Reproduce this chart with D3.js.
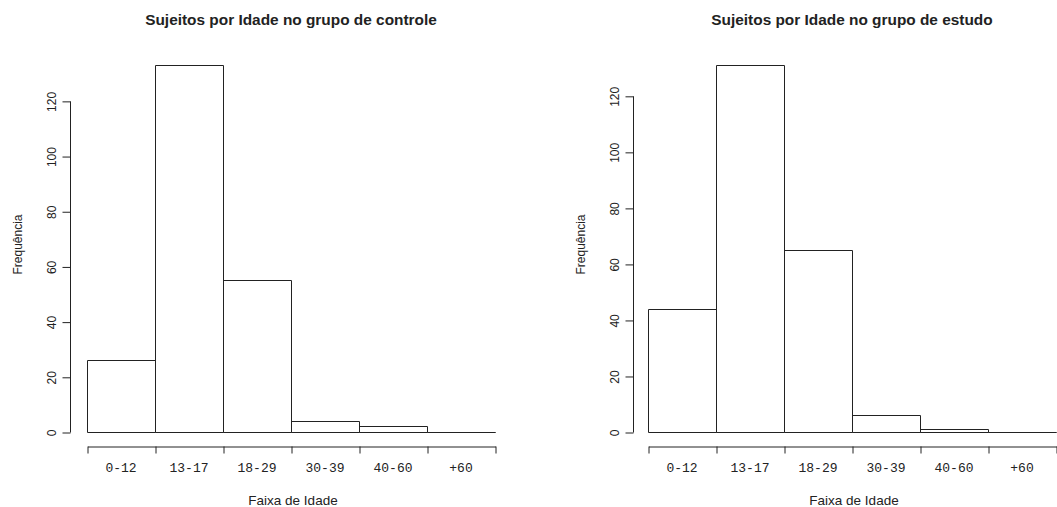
<!DOCTYPE html>
<html>
<head>
<meta charset="utf-8">
<script src="https://cdn.jsdelivr.net/npm/d3@7"></script>
<style>
  body { margin: 0; background: #fff; }
  svg text { fill: #222; }
</style>
</head>
<body>
<div id="chart"></div>
<script>
// data
var categories = ["0-12", "13-17", "18-29", "30-39", "40-60", "+60"];
var controle = [26, 133, 55, 4, 2, 0];
var estudo = [44, 131, 65, 6, 1, 0];
var yTicks = [0, 20, 40, 60, 80, 100, 120];
var titles = ["Sujeitos por Idade no grupo de controle", "Sujeitos por Idade no grupo de estudo"];

var w = 1057;
var h = 507;

var svg = d3.select("#chart")
    .append("svg")
    .attr("width", w)
    .attr("height", h);

function drawPanel(values, title, left, right, yAxisX) {
  var top = 65, bottom = 432;

  var x = d3.scaleBand()
      .domain(categories)
      .range([left, right])
      .padding(0);

  var xEdges = d3.scaleLinear()
      .domain([0, categories.length])
      .range([left, right]);

  var y = d3.scaleLinear()
      .domain([0, d3.max(values)])
      .range([bottom, top]);

  var g = svg.append("g");

  // title
  g.append("text")
      .attr("x", (left + right) / 2)
      .attr("y", 25)
      .attr("text-anchor", "middle")
      .style("font-family", "Liberation Sans, Arial, sans-serif")
      .style("font-weight", "bold")
      .style("font-size", "15.4px")
      .text(title);

  // bars (as paths so that zero-height bars still show their outline)
  g.selectAll("path.bar")
      .data(values)
      .enter()
      .append("path")
      .attr("class", "bar")
      .attr("d", function(d, i) {
        var x0 = Math.round(x(categories[i])) + 0.5;
        var x1 = Math.round(x(categories[i]) + x.bandwidth()) + 0.5;
        var y0 = Math.round(y(0)) + 0.5;
        var y1 = Math.round(y(d)) + 0.5;
        var p = d3.path();
        p.moveTo(x0, y0);
        p.lineTo(x0, y1);
        p.lineTo(x1, y1);
        p.lineTo(x1, y0);
        p.closePath();
        return p.toString();
      })
      .attr("fill", "none")
      .attr("stroke", "#222")
      .attr("stroke-width", 1);

  // y axis
  var yAxis = d3.axisLeft(y)
      .tickValues(yTicks)
      .tickSize(8)
      .tickSizeOuter(0)
      .tickPadding(0);

  var ya = g.append("g")
      .attr("transform", "translate(" + (yAxisX + 0.5) + ",0.5)")
      .call(yAxis);
  ya.select(".domain").remove();
  ya.append("line")
      .attr("x1", 0).attr("x2", 0)
      .attr("y1", y(0)).attr("y2", y(d3.max(yTicks)))
      .attr("stroke", "#222");
  ya.selectAll(".tick line").attr("stroke", "#222");
  ya.selectAll(".tick text")
      .attr("x", 0)
      .attr("dy", 0)
      .attr("text-anchor", "middle")
      .attr("transform", "translate(-19,0) rotate(-90)")
      .attr("dominant-baseline", "central")
      .style("font-family", "Liberation Sans, Arial, sans-serif")
      .style("font-size", "12px")
      .style("fill", "#222");

  g.append("text")
      .attr("transform", "translate(" + (yAxisX - 52) + "," + ((top + bottom) / 2 - 4) + ") rotate(-90)")
      .attr("text-anchor", "middle")
      .attr("dominant-baseline", "central")
      .style("font-family", "Liberation Sans, Arial, sans-serif")
      .style("font-size", "12px")
      .text("Frequência");

  // x axis (edges with ticks, labels centered under bars)
  var xAxis = d3.axisBottom(xEdges)
      .tickValues(d3.range(categories.length + 1))
      .tickFormat("")
      .tickSize(7)
      .tickSizeOuter(0);

  var xa = g.append("g")
      .attr("transform", "translate(0.5," + 446.5 + ")")
      .call(xAxis);
  xa.select(".domain").attr("stroke", "#222");
  xa.selectAll(".tick line").attr("stroke", "#222");

  g.selectAll("text.cat")
      .data(categories)
      .enter()
      .append("text")
      .attr("class", "cat")
      .attr("x", function(d) { return x(d) + x.bandwidth() / 2; })
      .attr("y", 472)
      .attr("text-anchor", "middle")
      .style("font-family", "Liberation Mono, Courier New, monospace")
      .style("font-size", "13px")
      .text(function(d) { return d; });

  g.append("text")
      .attr("x", (left + right) / 2 + 2)
      .attr("y", 505)
      .attr("text-anchor", "middle")
      .style("font-family", "Liberation Sans, Arial, sans-serif")
      .style("font-size", "13.5px")
      .text("Faixa de Idade");
}

drawPanel(controle, titles[0], 87, 495, 70);
drawPanel(estudo, titles[1], 648, 1056, 633);
</script>
</body>
</html>
